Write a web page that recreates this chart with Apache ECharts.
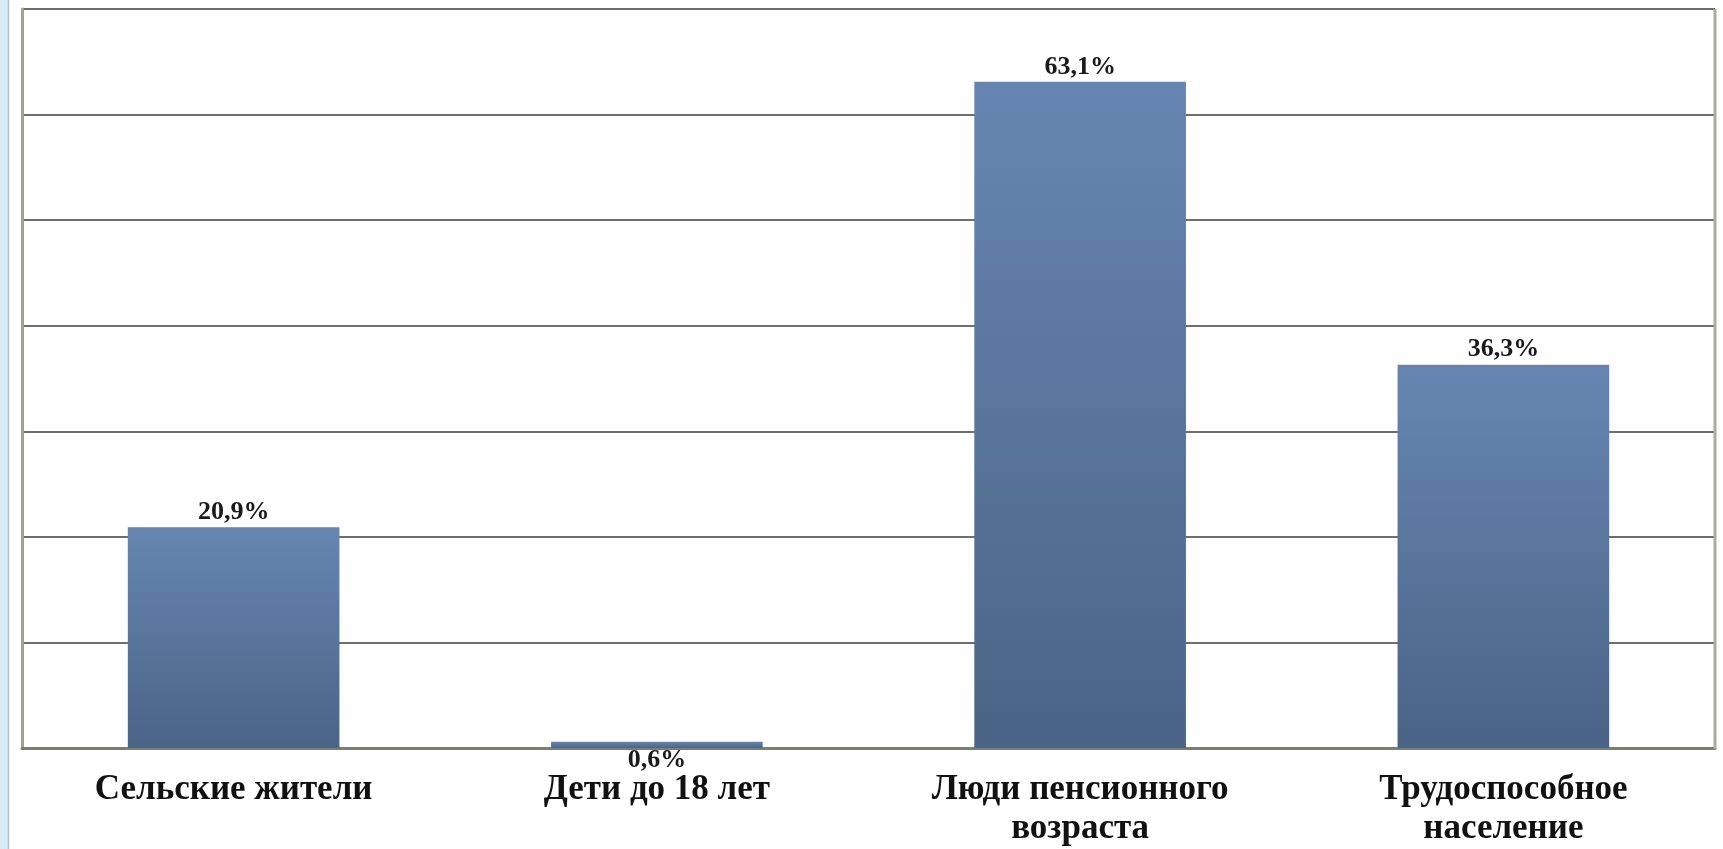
<!DOCTYPE html>
<html>
<head>
<meta charset="utf-8">
<script src="https://cdn.jsdelivr.net/npm/echarts@6/dist/echarts.min.js"></script>
<style>
html,body{margin:0;padding:0;background:#ffffff;}
#c{width:1723px;height:849px;}
</style>
</head>
<body>
<div id="c"></div>
<script>
const categories = ['Сельские жители', 'Дети до 18 лет', 'Люди пенсионного\nвозраста', 'Трудоспособное\nнаселение'];
const values = [20.9, 0.6, 63.1, 36.3];
const valueLabels = ['20,9%', '0,6%', '63,1%', '36,3%'];
const yMin = 0, yMax = 70, yInterval = 10;

const chart = echarts.init(document.getElementById('c'), null, {renderer: 'canvas'});
const serif = '"Liberation Serif", "DejaVu Serif", serif';

const barData = values.map((v, i) => {
  const item = {value: v};
  if (v < 2) {
    item.label = {position: 'inside', offset: [0, 15]};
  }
  return item;
});

chart.setOption({
  animation: false,
  backgroundColor: '#ffffff',
  graphic: [
    {type: 'rect', shape: {x: 0, y: 0, width: 8, height: 849}, style: {fill: '#d9ecfa'}, z: -10},
    {type: 'line', shape: {x1: 8.5, y1: 0, x2: 8.5, y2: 849}, style: {stroke: '#b9c2c4', lineWidth: 1.5}, z: -9},
    {type: 'line', shape: {x1: 1715, y1: 9, x2: 1715, y2: 749}, style: {stroke: '#a9ae9a', lineWidth: 3}, z: 5}
  ],
  grid: {left: 22, right: 8, top: 9, bottom: 101, containLabel: false},
  xAxis: {
    type: 'category',
    data: categories,
    axisLine: {show: true, lineStyle: {color: '#7b7f72', width: 3}},
    axisTick: {show: false},
    axisLabel: {
      color: '#111111',
      fontFamily: serif,
      fontWeight: 'bold',
      fontSize: 35,
      lineHeight: 39,
      margin: 22,
      interval: 0
    }
  },
  yAxis: {
    type: 'value',
    min: yMin, max: yMax, interval: yInterval,
    axisLine: {show: true, lineStyle: {color: '#9ea390', width: 3}},
    axisTick: {show: false},
    axisLabel: {show: false},
    splitLine: {show: true, lineStyle: {color: '#6e6e6e', width: 2}}
  },
  series: [{
    type: 'bar',
    data: barData,
    barWidth: '50%',
    itemStyle: {
      color: new echarts.graphic.LinearGradient(0, 0, 0, 1, [
        {offset: 0, color: '#6686b1'},
        {offset: 1, color: '#4a6486'}
      ])
    },
    label: {
      show: true,
      position: 'top',
      distance: 2,
      color: '#1a1a1a',
      fontFamily: serif,
      fontWeight: 'bold',
      fontSize: 26,
      formatter: p => valueLabels[p.dataIndex]
    }
  }]
});
</script>
</body>
</html>
